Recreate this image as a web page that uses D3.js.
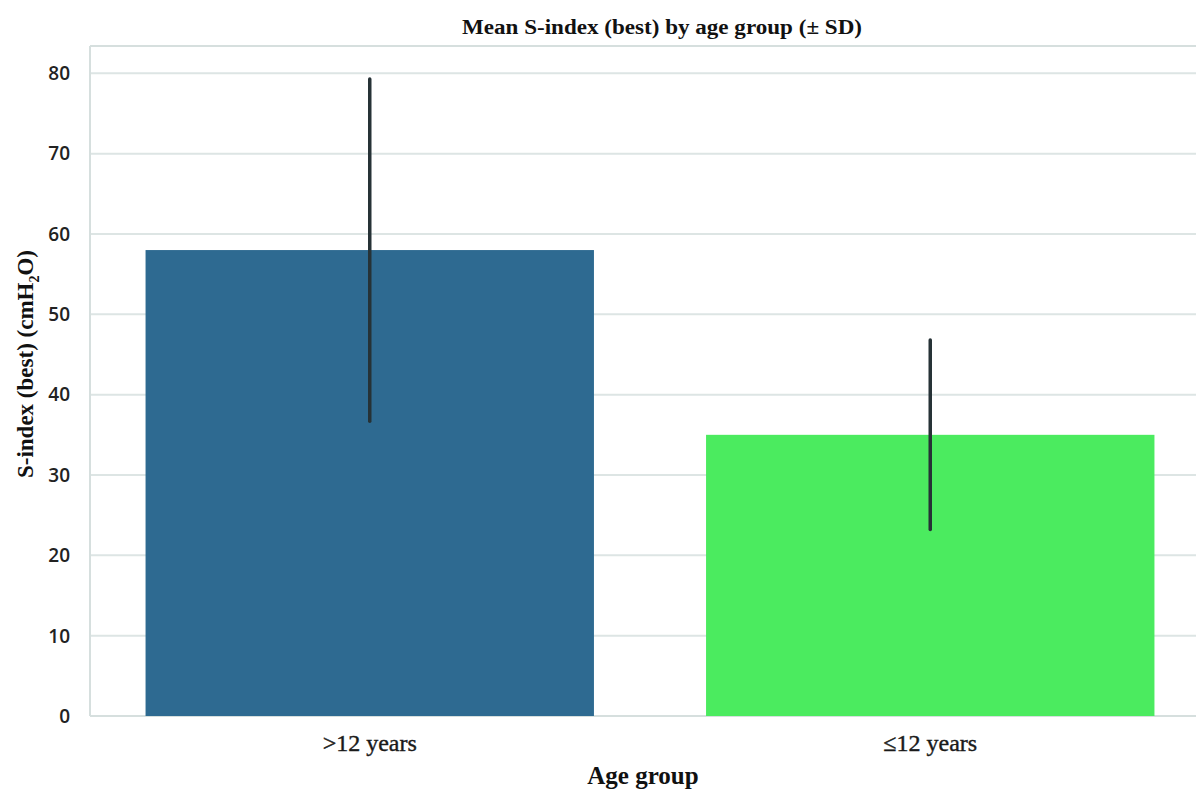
<!DOCTYPE html>
<html><head><meta charset="utf-8">
<script src="https://cdn.jsdelivr.net/npm/d3@7"></script>
<style>body{margin:0;background:#fff}svg{display:block}</style>
</head><body>
<script>
const categories = [">12 years", "≤12 years"];
const means = [58.0, 35.0];
const sds = [21.3, 11.8];
const yTicks = [0, 10, 20, 30, 40, 50, 60, 70, 80];
const colors = ["#2e6a91", "#4beb5f"];

const W = 1196, H = 790;
const m = {left: 90, top: 46, bottom: 716};
const svg = d3.select("body").append("svg").attr("width", W).attr("height", H);

const x = d3.scaleLinear().domain([-0.5, 1.5]).range([89.5, 1210.5]);
const y = d3.scaleLinear().domain([0, 83.4]).range([716, 46]);
const serif = "'Liberation Serif', serif";
const sans = "'Open Sans', sans-serif";

// grid
svg.append("g").selectAll("line").data(yTicks).join("line")
  .attr("x1", m.left).attr("x2", W).attr("y1", d => y(d)).attr("y2", d => y(d))
  .attr("stroke", "#dde5e4").attr("stroke-width", 2);

// spines
svg.append("line").attr("x1", m.left).attr("x2", m.left).attr("y1", 46).attr("y2", 716).attr("stroke", "#d6dfde").attr("stroke-width", 2);
svg.append("line").attr("x1", m.left).attr("x2", W).attr("y1", 46).attr("y2", 46).attr("stroke", "#d6dfde").attr("stroke-width", 2);
svg.append("line").attr("x1", m.left).attr("x2", W).attr("y1", 716).attr("y2", 716).attr("stroke", "#d6dfde").attr("stroke-width", 2);

// bars
const bw = 0.8;
svg.append("g").selectAll("rect").data(means).join("rect")
  .attr("x", (d, i) => x(i - bw / 2)).attr("width", (d, i) => x(i + bw / 2) - x(i - bw / 2))
  .attr("y", d => y(d)).attr("height", d => y(0) - y(d))
  .attr("fill", (d, i) => colors[i]);

// error bars
svg.append("g").selectAll("line").data(means).join("line")
  .attr("x1", (d, i) => x(i)).attr("x2", (d, i) => x(i))
  .attr("y1", (d, i) => y(d + sds[i])).attr("y2", (d, i) => y(d - sds[i]))
  .attr("stroke", "#263236").attr("stroke-width", 3.5).attr("stroke-linecap", "round");

// y tick labels
svg.append("g").selectAll("text").data(yTicks).join("text")
  .attr("x", 70).attr("y", d => y(d)).attr("dy", "0.36em").attr("text-anchor", "end")
  .attr("font-family", sans).attr("font-size", 19).attr("font-weight", 600).attr("fill", "#222")
  .text(d => d);

// x tick labels
svg.append("g").selectAll("text").data(categories).join("text")
  .attr("x", (d, i) => x(i)).attr("y", 751).attr("text-anchor", "middle")
  .attr("font-family", serif).attr("font-size", 24).attr("fill", "#1a1a1a")
  .attr("stroke", "#1a1a1a").attr("stroke-width", 0.4)
  .text(d => d);

// title
svg.append("text").attr("x", 662).attr("y", 34).attr("text-anchor", "middle")
  .attr("font-family", serif).attr("font-size", 20).attr("font-weight", "bold").attr("fill", "#111")
  .attr("textLength", 400).attr("lengthAdjust", "spacingAndGlyphs")
  .text("Mean S-index (best) by age group (± SD)");

// x label
svg.append("text").attr("x", 643).attr("y", 784).attr("text-anchor", "middle")
  .attr("font-family", serif).attr("font-size", 25).attr("font-weight", "bold").attr("fill", "#111")
  .text("Age group");

// y label
const yl = svg.append("text").attr("transform", "translate(33,364) rotate(-90)").attr("text-anchor", "middle")
  .attr("font-family", serif).attr("font-size", 23).attr("font-weight", "bold").attr("fill", "#111");
yl.append("tspan").text("S-index (best) (cmH");
yl.append("tspan").attr("font-size", 14).attr("dy", 6).text("2");
yl.append("tspan").attr("dy", -6).text("O)");
</script>
</body></html>
